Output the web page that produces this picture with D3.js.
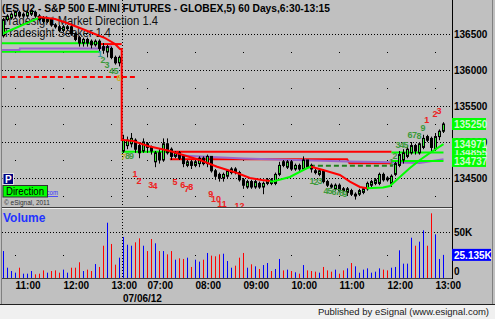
<!DOCTYPE html>
<html>
<head>
<meta charset="utf-8">
<script src="https://cdn.jsdelivr.net/npm/d3@7"></script>
<style>
  body { margin: 0; background: #c0c0c0; }
  svg { display: block; }
  text { font-family: "Liberation Sans", Arial, sans-serif; }
</style>
</head>
<body>
<svg id="chart" width="495" height="319"></svg>
<script>
// ES U2 5 min bars: 07/05 10:45-13:10, then 07/06 06:30-13:10
var opens = [1364.75,1367.0,1367.25,1367.5,1368.0,1367.5,1367.5,1367.75,1368.0,1367.5,1367.25,1366.75,1367.0,1366.25,1366.0,1365.5,1365.75,1366.0,1365.0,1364.5,1363.75,1364.25,1364.0,1363.5,1364.0,1363.25,1362.5,1363.0,1361.75,1361.0,
  1348.75,1349.5,1349.75,1350.25,1349.5,1348.75,1349.75,1349.25,1347.25,1348.5,1347.5,1349.75,1349.0,1348.0,1348.5,1348.0,1346.75,1347.25,1346.75,1347.0,1347.75,1347.0,1348.0,1346.0,1345.5,1345.0,1345.25,1345.75,1346.25,1345.75,
  1344.75,1343.75,1344.5,1343.75,1344.25,1343.75,1344.25,1344.75,1344.25,1345.5,1347.25,1346.5,1347.25,1346.25,1346.75,1346.25,1347.5,1346.75,1346.0,1345.5,
  1346.0,1344.5,1344.0,1343.5,1344.0,1343.5,1343.0,1343.25,1342.5,1342.75,1343.0,1343.5,1344.0,1344.25,1344.25,1345.5,1345.0,1344.25,1345.5,1346.75,
  1347.5,1348.0,1348.5,1349.5,1348.5,1349.25,1350.75,1350.5,1349.0,1350.75,1351.5];
var highs = [1367.25,1367.75,1368.0,1368.25,1368.25,1368.0,1368.25,1368.5,1368.25,1367.75,1367.5,1367.25,1367.25,1366.5,1366.25,1366.25,1366.25,1366.25,1365.25,1364.75,1364.5,1364.5,1364.25,1364.25,1364.25,1363.75,1363.5,1363.25,1362.0,1362.0,
  1351.0,1350.75,1351.25,1350.5,1350.0,1350.5,1350.0,1349.5,1348.75,1349.0,1350.5,1350.5,1349.25,1348.75,1348.75,1348.25,1347.5,1347.5,1347.5,1348.0,1348.0,1348.25,1348.0,1346.25,1345.75,1345.75,1346.25,1346.5,1346.5,1346.0,
  1345.0,1344.75,1344.75,1344.75,1344.5,1344.5,1345.0,1345.0,1345.75,1347.25,1347.5,1347.5,1347.5,1347.0,1347.0,1348.0,1347.5,1347.0,1346.25,1346.25,
  1346.25,1344.75,1344.25,1344.25,1344.25,1343.75,1343.75,1343.5,1343.0,1343.5,1343.75,1344.5,1344.75,1345.0,1345.75,1345.75,1345.25,1345.5,1347.25,1348.75,
  1349.0,1349.5,1350.0,1349.75,1350.0,1351.0,1351.0,1350.75,1351.25,1351.75,1352.75];
var lows = [1364.5,1366.75,1367.0,1367.25,1367.25,1367.25,1367.25,1367.5,1367.25,1366.75,1366.5,1366.5,1366.0,1365.75,1365.25,1365.25,1365.5,1364.75,1364.0,1363.25,1363.25,1363.25,1363.0,1363.25,1362.5,1362.25,1361.75,1361.5,1360.75,1360.5,
  1348.5,1349.0,1349.25,1348.5,1347.75,1348.5,1348.5,1348.25,1346.5,1347.0,1347.25,1348.25,1347.5,1347.75,1347.5,1346.5,1346.5,1346.25,1346.5,1346.5,1346.75,1346.5,1345.75,1344.75,1344.5,1344.5,1345.0,1345.5,1345.5,1344.5,
  1343.5,1343.5,1343.5,1343.5,1343.5,1342.75,1344.0,1344.0,1344.0,1345.25,1346.5,1346.25,1346.0,1346.0,1346.0,1346.0,1346.25,1345.75,1345.5,1345.25,
  1344.25,1343.75,1343.5,1343.25,1343.0,1343.0,1342.5,1342.5,1342.0,1342.5,1342.75,1343.25,1343.75,1344.0,1344.0,1344.5,1344.5,1343.75,1345.25,1346.5,
  1347.0,1347.75,1348.25,1348.25,1348.25,1349.0,1350.0,1348.5,1348.75,1350.25,1351.25];
var closes = [1367.0,1367.5,1367.75,1368.0,1367.5,1367.75,1368.0,1368.25,1367.5,1367.0,1366.75,1367.0,1366.25,1366.0,1365.5,1366.0,1366.0,1365.0,1364.25,1363.75,1364.25,1363.75,1363.5,1364.0,1363.0,1362.75,1363.25,1361.75,1361.0,1361.75,
  1350.25,1350.25,1350.5,1349.0,1348.5,1350.0,1349.25,1348.75,1348.5,1347.5,1349.75,1348.5,1348.0,1348.5,1347.75,1347.0,1347.25,1346.75,1347.25,1347.75,1347.0,1348.0,1346.0,1345.25,1345.0,1345.5,1346.0,1346.25,1345.75,1344.75,
  1344.0,1344.5,1343.75,1344.5,1343.75,1344.25,1344.75,1344.25,1345.5,1346.75,1346.75,1347.25,1346.25,1346.75,1346.25,1347.5,1346.5,1346.25,1345.75,1346.0,
  1344.5,1344.0,1343.75,1344.0,1343.25,1343.25,1343.5,1342.75,1342.75,1343.25,1343.5,1344.25,1344.5,1344.75,1345.5,1344.75,1344.75,1345.25,1347.0,1348.25,
  1348.5,1349.0,1349.5,1348.75,1349.75,1350.5,1350.25,1349.25,1350.75,1351.5,1352.5];
// volume in thousands
var volumes = [29.3,11.2,7.6,5.8,11.2,4.7,4.7,7.6,4.0,4.7,8.3,5.8,7.6,8.3,5.8,9.1,5.8,11.2,11.2,17.1,7.6,9.1,7.6,15.2,12.0,35.1,60.1,37.0,14.5,22.1,
  44.6,36.2,35.1,38.8,43.1,35.1,29.3,42.4,37.7,29.3,29.3,25.7,29.3,19.9,21.4,20.7,22.1,12.0,19.9,17.8,19.9,27.2,24.3,23.6,25.7,26.4,18.5,11.2,13.4,22.1,
  27.2,11.2,14.9,12.7,9.8,14.1,16.3,7.6,9.8,20.7,8.3,9.1,7.6,6.2,4.7,14.1,8.3,7.6,6.9,5.8,
  12.0,8.3,6.9,9.1,4.7,8.3,10.5,16.3,12.7,5.8,9.1,10.5,5.8,6.9,10.5,9.1,8.3,11.2,12.0,30.1,
  15.6,15.6,43.8,35.1,39.5,51.8,35.1,70.3,47.5,20.7,25.135];

var hourTicks = [3, 15, 27, 36, 48, 60, 72, 84, 96, 108];
var hourLabels = ["11:00","12:00","13:00","07:00","08:00","09:00","10:00","11:00","12:00","13:00"];
var sessionStart = 30;
var dateLabel = "07/06/12";
var priceTicks = [1345, 1350, 1355, 1360, 1365];
var priceHalfTicks = [1342.5, 1347.5, 1352.5, 1357.5, 1362.5];

// Tradesight Market Direction stop line, split where the colour flips
var mdGreenA = [[0,1365.1],[8.7,1367.2]];
var mdRedA = [[8.7,1367.2],[9.1,1367.36],[12.9,1367.08],[15.9,1366.53],[19.1,1365.83],[21.6,1365.28],[25.4,1364.44],[27.9,1363.61],[29.1,1362.92],[29.55,1362.92],[29.55,1350.28],[30,1350.28],[32.4,1350.14],[36.1,1349.44],[41.6,1348.75],[44.9,1348.19],[49.1,1347.5],[53.4,1346.57],[58.4,1345.7],[61.6,1345.0],[64.6,1344.72],[66.6,1344.58]];
var mdGreenB = [[66.6,1344.58],[67.1,1344.49],[71.6,1345.14],[75.8,1346.35],[76.9,1346.57]];
var mdRedB = [[76.9,1346.57],[79.9,1346.11],[84.1,1345.42],[86.6,1344.49],[89.1,1343.75],[90.9,1343.57]];
var mdGreenC = [[90.9,1343.57],[94.9,1343.68],[96.6,1343.89],[99.1,1345.14],[101.6,1346.39],[104.1,1347.5],[106.6,1348.47],[110,1349.71]];
// Seeker levels
var skGreenA = [[-0.4,1363.71],[24.1,1363.71]];
var skRedA = [[24.1,1363.6],[29.55,1363.6]];
var skGreenB = [[29.55,1348.65],[41.6,1348.65]];
var skRedB = [[41.6,1348.65],[97,1348.65]];
var skGreenC = [[97,1348.55],[110,1348.55]];
var lowGreenA = [[-0.4,1362.54],[24.1,1362.54]];
var purpleA = [[-0.4,1362.78],[4,1362.78],[4.1,1363.0],[24,1363.0],[27,1363.3]];
var purpleB = [[41.6,1348.2],[60,1347.7],[85.9,1347.3],[97,1347.2],[104,1347.1],[110,1347.6]];
var redT = [[41.6,1347.6],[85.9,1347.6],[86.5,1347.04],[97,1347.04]];
var greenR = [[97,1347.37],[110,1347.37]];
var dashGreen = [[76.6,1346.71],[97.4,1346.71]];
var dashRed = [[-0.4,1359.03],[33.4,1359.03]];

// setup counts: [text, bar, price]
var redCounts = [["1",32.9,1345.56],["2",33.9,1344.72],["3",36.8,1344.03],["4",37.9,1343.89],["5",42.9,1344.49],["6",44.8,1344.03],["7",45.8,1343.57],["8",46.8,1343.79],["9",51.8,1342.87],["10",53.1,1342.1],["11",54.6,1341.45],["12",59.0,1341.25],["13",61.6,1340.6],
  ["1",105.8,1353.06],["2",107.9,1353.99],["3",108.9,1354.31]];
var greenCounts = [["2",24.9,1361.49],["3",25.9,1360.74],["4",27.0,1359.9],["5",28.1,1359.9],["8",31,1348.19],["9",32,1348.19],
  ["1",77.1,1344.72],["2",78.1,1344.49],["3",79.1,1344.72],["4",80.6,1343.33],["5",81.6,1343.26],["6",82.6,1343.19],["7",83.6,1343.13],["8",84.5,1342.99],["9",85.4,1342.78],
  ["1",97.0,1347.26],["2",97.9,1348.19],["3",98.6,1349.68],["4",99.6,1349.68],["5",100.6,1349.68],["6",101.6,1351.07],["7",102.75,1351.07],["8",103.9,1350.97],["9",104.9,1352.04]];
var tealCounts = [["1",24.1,1362.36]];
var yellowCounts = [["6",28.9,1358.99],["7",30.0,1347.96]];

var lastPrice = 1352.5;
var mdLast = 1349.71;
var skLast = 1348.55;
var grLast = 1347.37;
var lastVolume = 25.135;

var svg = d3.select("#chart");
var x = d3.scaleLinear().domain([0, 110]).range([3.5, 443.5]);
var y = d3.scaleLinear().domain([1345, 1365]).range([178, 34]);
var yv = d3.scaleLinear().domain([0, 50]).range([278, 232]);

var plotL = 2, plotR = 452, priceBottom = 208, volBottom = 278;

svg.append("rect").attr("width", 495).attr("height", 319).attr("fill", "#c0c0c0");

var defs = svg.append("defs");
defs.append("clipPath").attr("id", "clipP").append("rect")
  .attr("x", plotL).attr("y", 0).attr("width", plotR - plotL).attr("height", priceBottom);
defs.append("clipPath").attr("id", "clipV").append("rect")
  .attr("x", plotL).attr("y", priceBottom + 2).attr("width", plotR - plotL).attr("height", volBottom - priceBottom - 2);

// ---- grids
var grid = svg.append("g");
grid.selectAll(".hg").data(priceTicks).enter().append("line")
  .attr("x1", plotL).attr("x2", plotR)
  .attr("y1", function(d){ return Math.round(y(d)) + 0.5; })
  .attr("y2", function(d){ return Math.round(y(d)) + 0.5; })
  .attr("stroke", "#000").attr("stroke-dasharray", "1,2");
hourTicks.forEach(function(t){
  priceHalfTicks.forEach(function(p){
    grid.append("rect").attr("x", Math.floor(x(t))).attr("y", Math.round(y(p))).attr("width", 1).attr("height", 1).attr("fill", "#000");
  });
  grid.append("rect").attr("x", Math.floor(x(t))).attr("y", Math.round(yv(25))).attr("width", 1).attr("height", 1).attr("fill", "#000");
});
grid.append("line")
  .attr("x1", plotL).attr("x2", plotR)
  .attr("y1", Math.round(yv(50)) + 0.5).attr("y2", Math.round(yv(50)) + 0.5)
  .attr("stroke", "#000").attr("stroke-dasharray", "1,2");
grid.append("line")
  .attr("x1", Math.floor(x(sessionStart)) - 0.5).attr("x2", Math.floor(x(sessionStart)) - 0.5)
  .attr("y1", 0).attr("y2", volBottom)
  .attr("stroke", "#000").attr("stroke-dasharray", "1,2");

// ---- titles (under the bars)
var pricePanel = svg.append("g").attr("clip-path", "url(#clipP)");
pricePanel.append("text").attr("x", 2).attr("y", 12).attr("font-size", 11).attr("font-weight", "bold")
  .attr("textLength", 328).attr("lengthAdjust", "spacingAndGlyphs")
  .text("(ES U2 - S&P 500 E-MINI FUTURES - GLOBEX,5) 60 Days,6:30-13:15");
pricePanel.append("text").attr("x", 2).attr("y", 25).attr("font-size", 12).attr("fill", "#101010")
  .attr("textLength", 156).attr("lengthAdjust", "spacingAndGlyphs")
  .text("Tradesight Market Direction 1.4");
pricePanel.append("text").attr("x", 3).attr("y", 37).attr("font-size", 12).attr("fill", "#101010")
  .attr("textLength", 108).attr("lengthAdjust", "spacingAndGlyphs")
  .text("Tradesight Seeker 1.4");

// ---- indicator lines
var line = d3.line().x(function(d){ return x(d[0]); }).y(function(d){ return y(d[1]); });
function drawLine(pts, color, w, dash) {
  var p = pricePanel.append("path").attr("d", line(pts)).attr("fill", "none")
    .attr("stroke", color).attr("stroke-width", w);
  if (dash) p.attr("stroke-dasharray", dash);
}
drawLine(dashRed, "#ff0000", 2, "5,3");
drawLine(lowGreenA, "#00ff00", 2);
drawLine(purpleA, "#9966cc", 2);
drawLine(skGreenA, "#00ff00", 2);
drawLine(skRedA, "#ff0000", 2);
drawLine(skGreenB, "#00ff00", 2);
drawLine(skRedB, "#ff0000", 2);
drawLine(skGreenC, "#00ff00", 2);
drawLine(redT, "#ff0000", 2);
drawLine(purpleB, "#9966cc", 2);
drawLine(greenR, "#00ff00", 2);
drawLine(dashGreen, "#208020", 2, "5,3");

// ---- candles
var bars = d3.range(opens.length).map(function(i){
  return { i: i, o: opens[i], h: highs[i], l: lows[i], c: closes[i], v: volumes[i] };
});
var cg = pricePanel.append("g");
cg.selectAll("line").data(bars).enter().append("line")
  .attr("x1", function(d){ return x(d.i); }).attr("x2", function(d){ return x(d.i); })
  .attr("y1", function(d){ return y(d.h); }).attr("y2", function(d){ return y(d.l); })
  .attr("stroke", "#000").attr("stroke-width", 1);
cg.selectAll("rect").data(bars).enter().append("rect")
  .attr("x", function(d){ return x(d.i) - 1; })
  .attr("y", function(d){ return y(Math.max(d.o, d.c)); })
  .attr("width", 2)
  .attr("height", function(d){ return Math.max(1, Math.abs(y(d.o) - y(d.c))); })
  .attr("fill", function(d){ return d.c >= d.o ? "#33ee33" : "#000"; })
  .attr("stroke", "#000").attr("stroke-width", 1);

// market direction on top of bars
drawLine(mdGreenA, "#00ff00", 2);
drawLine(mdRedA, "#ff0000", 2);
drawLine(mdGreenB, "#00ff00", 2);
drawLine(mdRedB, "#ff0000", 2);
drawLine(mdGreenC, "#00ff00", 2);

// counts
function drawCounts(arr, color) {
  pricePanel.selectAll(null).data(arr).enter().append("text")
    .attr("x", function(d){ return x(d[1]); })
    .attr("y", function(d){ return y(d[2]) + 3.5; })
    .attr("text-anchor", "middle").attr("font-size", 9).attr("font-weight", "bold")
    .attr("fill", color).text(function(d){ return d[0]; });
}
drawCounts(redCounts, "#ee2020");
drawCounts(greenCounts, "#3c9a3c");
drawCounts(tealCounts, "#3a9aa0");
drawCounts(yellowCounts, "#c8b030");

// legend bits bottom-left of the price pane
pricePanel.append("text").attr("x", 4).attr("y", 195)
  .attr("font-size", 8).attr("fill", "#3030ff").attr("text-decoration", "underline")
  .attr("textLength", 54).attr("lengthAdjust", "spacingAndGlyphs").text("www.tradesight.com");
pricePanel.append("rect").attr("x", 3).attr("y", 173.5).attr("width", 10.5).attr("height", 11)
  .attr("fill", "#000080").attr("stroke", "#e0e0e0").attr("stroke-width", 1);
pricePanel.append("text").attr("x", 8.3).attr("y", 182.5).attr("text-anchor", "middle")
  .attr("font-size", 10).attr("font-weight", "bold").attr("fill", "#fff").text("P");
pricePanel.append("rect").attr("x", 3).attr("y", 185.5).attr("width", 44.5).attr("height", 11.5)
  .attr("fill", "#00ff00").attr("stroke", "#303030").attr("stroke-width", 1);
pricePanel.append("text").attr("x", 6).attr("y", 195).attr("font-size", 11).attr("fill", "#000")
  .attr("textLength", 38).attr("lengthAdjust", "spacingAndGlyphs").text("Direction");
pricePanel.append("text").attr("x", 4).attr("y", 205).attr("font-size", 6.5).attr("fill", "#303030")
  .text("\u00a9 eSignal, 2011");

// ---- volume
var volPanel = svg.append("g").attr("clip-path", "url(#clipV)");
volPanel.selectAll("rect").data(bars).enter().append("rect")
  .attr("x", function(d){ return x(d.i) - 0.5; })
  .attr("y", function(d){ return yv(d.v); })
  .attr("width", 1)
  .attr("height", function(d){ return volBottom - yv(d.v); })
  .attr("fill", function(d){ return d.c >= d.o ? "#0000ff" : "#ff0000"; });
svg.append("text").attr("x", 3).attr("y", 222).attr("font-size", 12).attr("font-weight", "bold")
  .attr("fill", "#2233ff").text("Volume");

// ---- frame lines
svg.append("line").attr("x1", plotL).attr("x2", plotR).attr("y1", priceBottom - 0.5).attr("y2", priceBottom - 0.5).attr("stroke", "#404040");
svg.append("line").attr("x1", plotL).attr("x2", plotR).attr("y1", priceBottom + 0.5).attr("y2", priceBottom + 0.5).attr("stroke", "#f0f0f0");
svg.append("line").attr("x1", plotL).attr("x2", plotR).attr("y1", volBottom + 0.5).attr("y2", volBottom + 0.5).attr("stroke", "#404040");
svg.append("line").attr("x1", plotR + 0.5).attr("x2", plotR + 0.5).attr("y1", 0).attr("y2", volBottom + 1).attr("stroke", "#000");
svg.append("line").attr("x1", 1.5).attr("x2", 1.5).attr("y1", 0).attr("y2", 304).attr("stroke", "#808080");
svg.append("line").attr("x1", 492.5).attr("x2", 492.5).attr("y1", 0).attr("y2", 304).attr("stroke", "#808080");

// ---- right axis
var ax = svg.append("g").attr("font-size", 10).attr("font-weight", "bold");
ax.selectAll(null).data(priceTicks).enter().append("text")
  .attr("x", 454).attr("y", function(d){ return y(d) + 4; })
  .text(function(d){ return d3.format("d")(d * 100); });
function valueBox(text, fill, color, yy) {
  ax.append("rect").attr("x", 452).attr("y", yy - 6).attr("width", 34).attr("height", 12).attr("fill", fill);
  ax.append("text").attr("x", 454).attr("y", yy + 4).attr("fill", color).text(text);
}
valueBox(d3.format("d")(skLast * 100), "#00ff00", "#d0f8d0", y(skLast));
valueBox(d3.format("d")(mdLast * 100), "#00ff00", "#d0f8d0", y(mdLast));
valueBox(d3.format("d")(grLast * 100), "#00ff00", "#d0f8d0", y(grLast));
valueBox(d3.format("d")(lastPrice * 100), "#00ff00", "#d0f8d0", y(lastPrice));

ax.append("text").attr("x", 454).attr("y", yv(50) + 4).text("50K");
ax.append("text").attr("x", 454).attr("y", yv(0) - 3).text("0");
ax.append("rect").attr("x", 452).attr("y", yv(lastVolume) - 6).attr("width", 39).attr("height", 12).attr("fill", "#0000ff");
ax.append("text").attr("x", 454).attr("y", yv(lastVolume) + 4).attr("fill", "#fff").text(d3.format(".3f")(lastVolume) + "K");

// ---- time axis
var tx = svg.append("g").attr("font-size", 10).attr("font-weight", "bold");
tx.selectAll(null).data(hourTicks).enter().append("text")
  .attr("x", function(d){ return Math.floor(x(d)) + 0.5; }).attr("y", 289)
  .text(function(d, i){ return hourLabels[i]; });
tx.append("text").attr("x", Math.floor(x(sessionStart))).attr("y", 301.5).text(dateLabel);

// ---- footer strip
svg.append("rect").attr("x", 0).attr("y", 305).attr("width", 495).attr("height", 14).attr("fill", "#f0f0f0");
svg.append("line").attr("x1", 0).attr("x2", 495).attr("y1", 304.5).attr("y2", 304.5).attr("stroke", "#202020");
svg.append("text").attr("x", 489).attr("y", 314.5).attr("text-anchor", "end").attr("font-size", 9.5)
  .attr("fill", "#202020")
  .text("Published by eSignal (www.esignal.com)");
</script>
</body>
</html>
